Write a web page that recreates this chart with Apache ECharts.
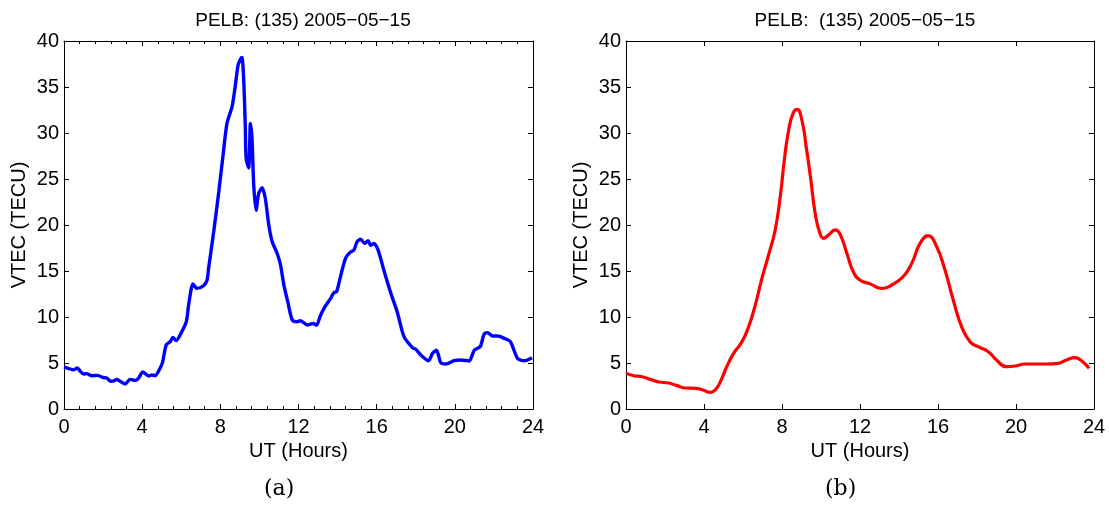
<!DOCTYPE html>
<html>
<head>
<meta charset="utf-8">
<script src="https://cdn.jsdelivr.net/npm/echarts@6/dist/echarts.min.js"></script>
<style>
  html, body { margin: 0; padding: 0; background: #ffffff; }
  #chart { width: 1109px; height: 508px; }
</style>
</head>
<body>
<div id="chart"></div>
<script>
// Panel (a): measured VTEC at PELB, day 135 of 2005
const hoursA = [0.00,0.25,0.48,0.68,0.85,1.00,1.16,1.42,1.71,2.02,2.19,2.39,2.55,2.70,2.96,3.13,3.38,3.64,3.81,4.03,4.33,4.50,4.67,4.87,5.04,5.23,5.44,5.57,5.74,6.03,6.26,6.39,6.60,6.80,7.14,7.32,7.40,7.66,7.92,8.14,8.34,8.60,8.77,8.91,9.05,9.11,9.20,9.28,9.32,9.45,9.54,9.62,9.71,9.83,9.96,10.14,10.30,10.48,10.65,10.91,11.08,11.25,11.45,11.68,11.93,12.10,12.45,12.75,12.92,13.13,13.38,13.64,13.81,13.95,14.15,14.41,14.63,14.84,15.00,15.18,15.38,15.56,15.69,15.86,16.07,16.38,16.72,17.06,17.40,17.83,18.00,18.26,18.65,18.86,19.06,19.28,19.54,19.96,20.31,20.73,21.00,21.30,21.50,21.68,21.93,22.19,22.53,22.84,23.21,23.55,23.95];
const vtecA  = [4.55,4.40,4.25,4.46,4.05,3.80,3.84,3.62,3.66,3.41,3.37,3.01,3.05,3.22,2.90,2.72,3.22,3.11,3.33,4.02,3.59,3.70,3.62,4.24,5.04,6.96,7.32,7.79,7.43,8.41,9.49,11.49,13.59,13.11,13.40,14.00,15.30,19.27,23.60,27.60,31.05,32.86,35.20,37.40,38.10,38.20,35.60,30.50,27.25,26.20,31.05,29.40,24.30,21.60,23.40,24.05,22.90,20.00,18.20,16.90,15.65,13.50,11.66,9.67,9.49,9.60,9.13,9.30,9.10,10.20,11.20,12.00,12.65,12.75,14.40,16.40,17.00,17.30,18.20,18.45,18.00,18.30,17.80,18.00,17.30,15.00,12.60,10.50,7.86,6.67,6.49,5.87,5.25,6.05,6.40,5.04,4.89,5.25,5.33,5.22,6.41,6.77,8.15,8.30,7.93,7.93,7.68,7.32,5.50,5.25,5.58];

// Panel (b): modelled VTEC for the same station and day
const hoursB = [0.00,0.40,0.83,1.25,1.68,2.19,2.62,3.05,3.56,3.98,4.33,4.58,4.84,5.18,5.52,5.95,6.29,6.63,6.97,7.31,7.65,7.91,8.12,8.34,8.56,8.77,9.02,9.24,9.48,9.70,9.92,10.13,10.38,10.73,10.98,11.33,11.66,12.01,12.52,13.12,13.63,14.22,14.65,15.08,15.50,15.93,16.36,16.78,17.21,17.64,18.06,18.58,19.00,19.52,19.94,20.46,21.05,21.57,22.16,22.59,23.02,23.36,23.75];
const vtecB  = [3.90,3.62,3.51,3.22,2.93,2.83,2.54,2.28,2.25,2.03,1.81,2.07,2.97,4.67,6.05,7.32,8.95,11.30,14.20,16.74,19.46,23.08,27.07,30.30,32.10,32.57,31.40,28.50,24.90,21.27,19.27,18.55,18.90,19.46,19.00,16.90,14.90,14.00,13.60,13.10,13.48,14.40,15.80,18.00,18.84,17.65,15.10,11.85,8.95,7.32,6.77,6.23,5.33,4.60,4.67,4.89,4.89,4.89,4.96,5.33,5.58,5.25,4.42];

const hourTicks = [0, 4, 8, 12, 16, 20, 24];
const titleA = 'PELB: (135) 2005\u221205\u221215';
const titleB = 'PELB:  (135) 2005\u221205\u221215';
const xName = 'UT (Hours)';
const yName = 'VTEC (TECU)';
const captions = ['(a)', '(b)'];

const FONT = '"Liberation Sans", Arial, Helvetica, sans-serif';
const INK = '#000000';
const LABEL_SIZE = 20;

const panels = [
  { left: 64, width: 469, minor: true },
  { left: 626, width: 468, minor: false }
];

function pairs(xs, ys) { return xs.map((x, i) => [x, ys[i]]); }

const grids = panels.map(p => ({ left: p.left, top: 41, width: p.width, height: 368, containLabel: false }));

const xAxes = [];
const yAxes = [];
panels.forEach((p, g) => {
  const line = { show: true, onZero: false, lineStyle: { color: INK, width: 1 } };
  const tick = { show: true, inside: true, length: 5, lineStyle: { color: INK, width: 1 } };
  const minor = { show: p.minor, splitNumber: 5, length: 3, lineStyle: { color: INK, width: 1 } };
  // bottom axis with labels
  xAxes.push({
    type: 'value', gridIndex: g, position: 'bottom', min: 0, max: 24, interval: 4,
    name: xName, nameLocation: 'middle', nameGap: 27,
    nameTextStyle: { color: INK, fontSize: LABEL_SIZE, fontFamily: FONT },
    axisLine: line, axisTick: tick, minorTick: minor, splitLine: { show: false },
    axisLabel: { color: INK, fontSize: LABEL_SIZE, fontFamily: FONT, margin: 8,
      formatter: v => hourTicks.indexOf(v) >= 0 ? String(v) : '' }
  });
  // top mirror
  xAxes.push({
    type: 'value', gridIndex: g, position: 'top', min: 0, max: 24, interval: 4,
    axisLine: line, axisTick: tick, minorTick: minor, splitLine: { show: false },
    axisLabel: { show: false }
  });
  // left axis with labels
  yAxes.push({
    type: 'value', gridIndex: g, position: 'left', min: 0, max: 40, interval: 5,
    name: yName, nameLocation: 'middle', nameGap: 35, nameRotate: 90,
    nameTextStyle: { color: INK, fontSize: LABEL_SIZE, fontFamily: FONT },
    axisLine: line, axisTick: tick, splitLine: { show: false },
    axisLabel: { color: INK, fontSize: LABEL_SIZE, fontFamily: FONT, margin: 5 }
  });
  // right mirror
  yAxes.push({
    type: 'value', gridIndex: g, position: 'right', min: 0, max: 40, interval: 5,
    axisLine: line, axisTick: tick, splitLine: { show: false },
    axisLabel: { show: false }
  });
});

const option = {
  backgroundColor: '#ffffff',
  animation: false,
  title: [
    { text: titleA, left: 298, top: 6, textAlign: 'center',
      textStyle: { color: INK, fontSize: 19, fontWeight: 'normal', fontFamily: FONT } },
    { text: titleB, left: 860, top: 6, textAlign: 'center',
      textStyle: { color: INK, fontSize: 19, fontWeight: 'normal', fontFamily: FONT } }
  ],
  grid: grids,
  xAxis: xAxes,
  yAxis: yAxes,
  series: [
    { type: 'line', xAxisIndex: 0, yAxisIndex: 0, data: pairs(hoursA, vtecA),
      showSymbol: false, smooth: 0.25, lineStyle: { color: '#0000ff', width: 3.4 } },
    { type: 'line', xAxisIndex: 2, yAxisIndex: 2, data: pairs(hoursB, vtecB),
      showSymbol: false, smooth: 0.5, lineStyle: { color: '#ff0000', width: 3.2 } }
  ],
  graphic: [
    { type: 'text', left: 264, top: 478, style: { text: captions[0], fill: INK,
      font: '22px "DejaVu Serif", "Liberation Serif", serif' } },
    { type: 'text', left: 825, top: 478, style: { text: captions[1], fill: INK,
      font: '22px "DejaVu Serif", "Liberation Serif", serif' } }
  ]
};

const chart = echarts.init(document.getElementById('chart'), null, { renderer: 'canvas' });
chart.setOption(option);
</script>
</body>
</html>
